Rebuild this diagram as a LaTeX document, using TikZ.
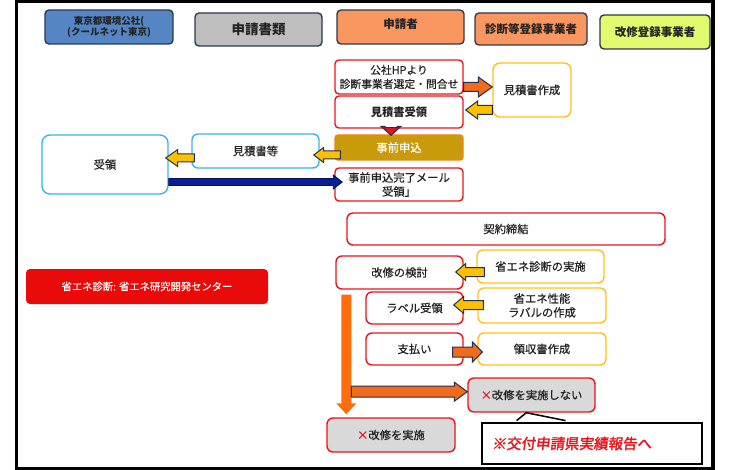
\documentclass[tikz,border=0pt]{standalone}
\usepackage{fontspec}
\setmainfont{Noto Sans CJK JP}[UprightFeatures={FakeBold=0.6}]
\newfontfamily\cfont{Noto Sans CJK JP}[FakeSlant=0.12,FakeBold=2]
\usetikzlibrary{calc}
\definecolor{txt}{HTML}{222222}
\definecolor{hblue}{HTML}{5585C5}
\definecolor{hgray}{HTML}{BEBEBE}
\definecolor{horange}{HTML}{FA9660}
\definecolor{hgreen}{HTML}{E2FA6E}
\definecolor{hdrline}{HTML}{2C3A4E}
\definecolor{redb}{HTML}{E8141C}
\definecolor{goldb}{HTML}{FFC21A}
\definecolor{blueb}{HTML}{3CB4E5}
\definecolor{jzfill}{HTML}{C99A0A}
\definecolor{jzline}{HTML}{F0821E}
\definecolor{arrowy}{HTML}{FFC000}
\definecolor{arrowo}{HTML}{F26B1D}
\definecolor{arrowline}{HTML}{1F3050}
\definecolor{vorange}{HTML}{FF6D0A}
\definecolor{navy}{HTML}{0A1E96}
\definecolor{labelred}{HTML}{EB0A0A}
\definecolor{grayx}{HTML}{D9D9D9}
\newcommand\fs{\fontsize{11.3}{14}\selectfont}
% horizontal block arrow: style, from, to(x only), shaft half, head half, head length
\newcommand\harrow[6]{%
  \path[#1] let \p1=#2, \p2=#3, \n1={(\x2-\x1)/abs(\x2-\x1)}, \n2={\x2-(\n1)*#6pt} in
    (\x1,{\y1-#4pt}) -- ({\n2},{\y1-#4pt}) -- ({\n2},{\y1-#5pt}) -- (\x2,\y1)
    -- ({\n2},{\y1+#5pt}) -- ({\n2},{\y1+#4pt}) -- (\x1,{\y1+#4pt}) -- cycle;}
% vertical block arrow: style, from, to(y only), shaft half, head half, head length
\newcommand\varrow[6]{%
  \path[#1] let \p1=#2, \p2=#3, \n1={(\y2-\y1)/abs(\y2-\y1)}, \n2={\y2-(\n1)*#6pt} in
    ({\x1-#4pt},\y1) -- ({\x1-#4pt},{\n2}) -- ({\x1-#5pt},{\n2}) -- (\x1,\y2)
    -- ({\x1+#5pt},{\n2}) -- ({\x1+#4pt},{\n2}) -- ({\x1+#4pt},\y1) -- cycle;}
\begin{document}
\begin{tikzpicture}[x=1pt,y=-1pt,
  box/.style={rounded corners=4pt, inner sep=1pt, align=center, font=\fs, text=txt, fill=white, line width=1.4pt},
  hdr/.style={box, draw=hdrline, font=\fontsize{11.5}{14}\selectfont\bfseries},
  rbox/.style={box, draw=redb},
  gbox/.style={box, draw=goldb},
  bbox/.style={box, draw=blueb},
  xbox/.style={box, draw=redb, fill=grayx},
  yarrow/.style={fill=arrowy, draw=arrowline, line width=1pt},
  oarrow/.style={fill=arrowo, draw=arrowline, line width=1pt},
  rarrow/.style={fill=redb, draw=arrowline, line width=1pt},
  narrow/.style={fill=navy, draw=navy!60!black, line width=0.8pt},
  varr/.style={fill=vorange},
  wh/.style 2 args={minimum width=#1pt, minimum height=#2pt}
]
\useasboundingbox (0,0) rectangle (730,470);
\fill[white] (0,0) rectangle (730,470);
\draw[line width=3.2pt] (16.7,1.8) rectangle (713,468.6);

% headers
\node[hdr, fill=hblue, wh={128}{34}, font=\fontsize{9.5}{11}\selectfont\bfseries] (h1) at (109,27) {東京都環境公社(\\(クールネット東京)};
\node[hdr, fill=hgray, wh={127}{33}, font=\fontsize{13.5}{16}\selectfont\bfseries] (h2) at (258.5,29.5) {申請書類};
\node[hdr, fill=horange, wh={127}{34}, text depth=6pt] (h3) at (400.5,27) {申請者};
\node[hdr, fill=horange, wh={112}{32}] (h4) at (531,29) {診断等登録事業者};
\node[hdr, fill=hgreen, wh={110}{34}] (h5) at (655,32) {改修登録事業者};

% upper flow
\node[rbox, wh={128}{34}, font=\fontsize{10.8}{14}\selectfont] (hp) at (399,77) {公社HPより\\診断事業者選定・問合せ};
\node[rbox, wh={128}{32}, font=\fs\bfseries] (mju) at (399,112) {見積書受領};
\node[gbox, wh={78}{54}, rounded corners=7pt] (msk) at (532,90) {見積書作成};
\node[box, draw=jzline, fill=jzfill, text=white, wh={128}{25}, rounded corners=3pt] (jz) at (399,147.5) {事前申込};
\node[rbox, wh={128}{33}] (mail) at (399,184.5) {事前申込完了メール\\受領」};
\node[bbox, wh={127}{34}, rounded corners=6pt] (mt) at (255.5,151) {見積書等};
\node[bbox, wh={126}{59}, rounded corners=8pt] (jr) at (105,164.5) {受領};

% lower flow
\node[rbox, wh={318}{32}, rounded corners=6pt] (kk) at (506,229) {契約締結};
\node[rbox, wh={127}{33}, rounded corners=6pt] (kt) at (399.5,272.5) {改修の検討};
\node[gbox, wh={127}{33}, rounded corners=6pt] (sj) at (540.5,266.5) {省エネ診断の実施};
\node[rbox, wh={97}{32}, rounded corners=6pt] (lr) at (414.5,308) {ラベル受領};
\node[gbox, wh={128}{35}, rounded corners=6pt] (ls) at (542,305.5) {省エネ性能\\ラバルの作成};
\node[rbox, wh={97}{32}, rounded corners=6pt] (sh) at (414.5,349) {支払い};
\node[gbox, wh={128}{32}, rounded corners=6pt] (rs) at (542,349) {領収書作成};
\node[xbox, wh={127}{34}, rounded corners=6pt] (nosi) at (531.5,395) {{\color{redb}×}改修を実施しない};
\node[xbox, wh={128}{34}, rounded corners=6pt] (jisshi) at (391,435) {{\color{redb}×}改修を実施};
\node[box, draw=none, fill=labelred, text=white, wh={242}{35}, font=\fontsize{10.3}{12}\selectfont] (lab) at (147,286.5) {省エネ診断: 省エネ研究開発センター};

% arrows
\harrow{oarrow}{($(hp.east)+(0,10)$)}{(msk.west)}{4.5}{10}{14}
\harrow{yarrow}{($(msk.west)+(0,20)$)}{($(mju.east)+(2,0)$)}{4.5}{9}{12}
\varrow{rarrow}{($(mju.south)+(-8,-1)$)}{($(jz.north)+(0,1)$)}{6}{10}{9}
\harrow{yarrow}{($(jz.west)+(6,7.5)$)}{($(mt.east)+(-6,0)$)}{4}{7.5}{10}
\harrow{yarrow}{($(mt.west)+(3,7)$)}{($(jr.east)+(-3,0)$)}{4}{8.5}{12}
\harrow{narrow}{($(jr.east)+(0,17.5)$)}{($(mail.west)+(8,0)$)}{3.5}{7}{9}
\harrow{yarrow}{($(sj.west)+(8,5.5)$)}{($(kt.east)+(-8,0)$)}{4.5}{8.5}{10}
\harrow{yarrow}{($(ls.west)+(6,-0.5)$)}{($(lr.east)+(-10,0)$)}{4.5}{8.5}{10}
\harrow{oarrow}{($(sh.east)+(-11,3)$)}{($(rs.west)+(5,0)$)}{5}{10}{10}
\varrow{varr}{($(kt.south west)+(11,5)$)}{($(jisshi.north)+(0,-3)$)}{5}{10}{11}
\harrow{oarrow}{($(kt.south west)+(16,102)$)}{(nosi.west)}{5.5}{9.5}{13}

% callout
\node[draw=black, line width=2.8pt, fill=white, minimum width=220pt, minimum height=41pt, inner xsep=10pt, text width=200pt, align=left, text=redb, font=\fontsize{14.5}{17}\cfont] (co) at (592,443.5) {※交付申請県実績報告へ};
\coordinate (ptip) at ($(nosi.south west)+(59,0)$);
\draw[line width=1.5pt, fill=white] ($(co.north west)+(36,-1)$) -- (ptip) -- ($(co.north west)+(85,-1)$);
\end{tikzpicture}
\end{document}
